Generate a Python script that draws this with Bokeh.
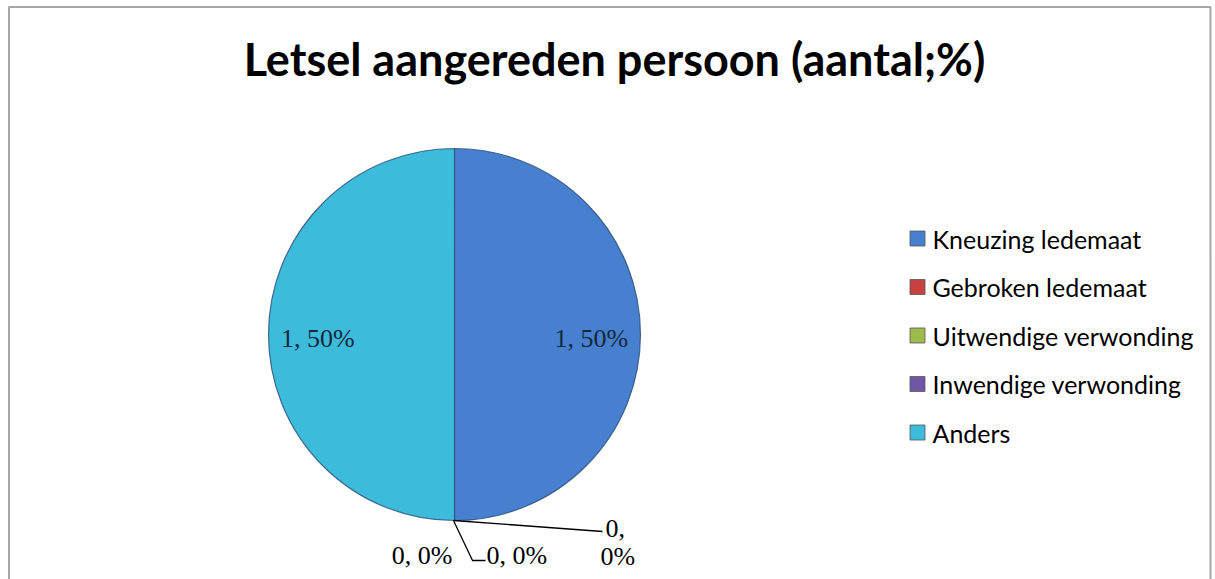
import numpy as np
from bokeh.plotting import figure
from bokeh.models import ColumnDataSource
from bokeh.core.properties import value
from bokeh.embed import file_html
from bokeh.resources import INLINE

# ---- data ----
title_text = "Letsel aangereden persoon (aantal;%)"
categories = ["Kneuzing ledemaat", "Gebroken ledemaat", "Uitwendige verwonding",
              "Inwendige verwonding", "Anders"]
counts = [1, 0, 0, 0, 1]
colors = ["#4680cf", "#c9413f", "#9dbb4a", "#7256a6", "#3dbbda"]

# ---- layout ----
W, H = 1215, 579
p = figure(width=W, height=H, x_range=(0, W), y_range=(0, H),
           x_axis_type=None, y_axis_type=None, output_backend="svg",
           toolbar_location=None, min_border=0)
p.grid.visible = False
p.outline_line_color = None
p.background_fill_color = "white"

# chart border (top, left, right)
p.line([8.5, 8.5, 1210, 1210], [0, 572.5, 572.5, 0], line_color="#a6a6a6", line_width=2)

# title
p.text([614], [521], text=[title_text], text_font=value("Lato"), text_font_style="bold",
       text_font_size="45px", text_align="center", text_baseline="middle",
       text_color="#000000")

# pie
cx, cy, R = 454, 245, 186
vals = np.array(counts, dtype=float)
frac = vals / vals.sum()
ends = np.pi / 2 - 2 * np.pi * np.cumsum(frac)
starts = np.concatenate([[np.pi / 2], ends[:-1]])
nz = [i for i, v in enumerate(counts) if v > 0]
src = ColumnDataSource(dict(start=starts[nz], end=ends[nz], color=[colors[i] for i in nz]))
p.wedge(x=cx, y=cy, radius=R, start_angle="end", end_angle="start", source=src,
        fill_color="color", line_color="#2a4d7a", line_width=1.2, line_alpha=0.8)

labels = [f"{c}, {round(f * 100)}%" for c, f in zip(counts, frac)]
mid = (starts + ends) / 2
p.text([cx + 0.735 * R * np.cos(mid[i]) for i in nz],
       [cy - 4 + 0.735 * R * np.sin(mid[i]) for i in nz],
       text=[labels[i] for i in nz], text_font=value("Liberation Serif"),
       text_font_size="26px", text_align="center", text_baseline="middle",
       text_color="#17283d")

# zero-slice labels around bottom point with leader lines
bx, by = cx - 1, cy - R
zero = [i for i, v in enumerate(counts) if v == 0]
p.line([bx, bx + 19, bx + 32], [by, by - 40, by - 40], line_color="black", line_width=1.3)
p.line([bx, bx + 149], [by, by - 11], line_color="black", line_width=1.3)
p.text([bx - 1], [by - 35], text=[labels[zero[2]]], text_font=value("Liberation Serif"),
       text_font_size="26px", text_align="right", text_baseline="middle", text_color="black")
p.text([bx + 33], [by - 35], text=[labels[zero[1]]], text_font=value("Liberation Serif"),
       text_font_size="26px", text_align="left", text_baseline="middle", text_color="black")
z0 = labels[zero[0]].split(" ")
p.text([bx + 152, bx + 147], [by - 8, by - 36], text=[z0[0], z0[1]],
       text_font=value("Liberation Serif"), text_font_size="26px",
       text_align="left", text_baseline="middle", text_color="black")

# legend
ly0, lstep = 341, 48.5
ly = [ly0 - i * lstep for i in range(len(categories))]
p.rect([917] * len(categories), ly, width=15, height=15, fill_color=colors,
       line_color="#555555", line_width=0.8)
p.text([932] * len(categories), ly, text=categories, text_font=value("Lato"),
       text_font_size="25px", text_align="left", text_baseline="middle", text_color="black")

open("out.html", "w").write(file_html(p, INLINE))
